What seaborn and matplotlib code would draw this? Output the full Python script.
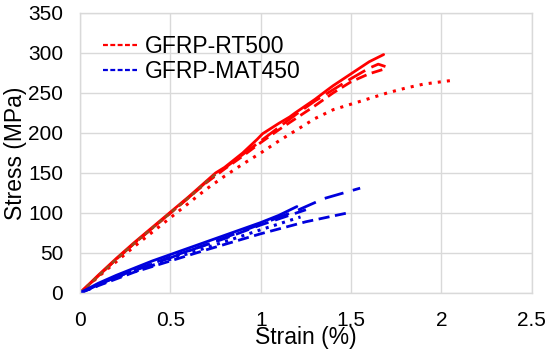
import pandas as pd
import matplotlib
matplotlib.use("Agg")
import matplotlib.pyplot as plt
import seaborn as sns
from matplotlib.lines import Line2D

# --- data (strain %, stress MPa) ---
rt_solid_x = [0, 0.1, 0.2, 0.3, 0.4, 0.5, 0.6, 0.7, 0.75, 0.8, 0.9, 0.98, 1.01, 1.1, 1.16, 1.19, 1.3, 1.37, 1.4, 1.5, 1.6, 1.68]
rt_solid_y = [0, 22, 43, 63, 82, 101, 120, 140, 150, 157, 175, 192, 199, 212, 220, 225, 242, 254, 259, 274, 289, 298]

rt_dash1_x = [0, 0.1, 0.2, 0.3, 0.4, 0.5, 0.6, 0.7, 0.8, 0.9, 1.0, 1.1, 1.2, 1.3, 1.4, 1.5, 1.6, 1.7]
rt_dash1_y = [0, 21, 42, 62, 81, 100, 119, 138, 155, 171, 188, 204, 219, 234, 250, 264, 274, 281]

rt_dash2_x = [0, 0.1, 0.2, 0.3, 0.4, 0.5, 0.6, 0.7, 0.8, 0.9, 1.0, 1.1, 1.2, 1.3, 1.4, 1.5, 1.6, 1.65, 1.69]
rt_dash2_y = [0, 21, 42, 62, 81, 100, 119, 139, 156, 173, 190, 207, 224, 240, 254, 268, 281, 286, 283]

rt_dot_x = [0, 0.1, 0.2, 0.3, 0.4, 0.5, 0.6, 0.7, 0.8, 0.9, 1.0, 1.1, 1.2, 1.3, 1.4, 1.5, 1.6, 1.7, 1.8, 1.9, 2.0, 2.07]
rt_dot_y = [0, 20, 39, 58, 76, 94, 112, 130, 146, 161, 175, 190, 204, 218, 229, 236, 243, 250, 256, 261, 264, 266]

# brownish overlap seen on the first part of the RT500 curves
rt_early_x = [0, 0.1, 0.2, 0.3, 0.4, 0.5, 0.6, 0.7, 0.76]
rt_early_y = [0, 21, 42, 62, 81, 100, 119, 139, 150]

mat_solid_x = [0, 0.1, 0.2, 0.3, 0.4, 0.5, 0.6, 0.7, 0.8, 0.9, 1.0, 1.1, 1.2]
mat_solid_y = [0, 12, 22, 31, 40, 48, 56, 64, 72, 80, 88, 97, 108]

mat_dashA_x = [0, 0.2, 0.5, 0.8, 1.0, 1.2, 1.35, 1.55]
mat_dashA_y = [0, 20, 44, 69, 86, 103, 118, 131]

mat_dashB_x = [0, 0.1, 0.3, 0.5, 0.7, 1.0, 1.25, 1.48]
mat_dashB_y = [0, 9, 26, 40, 54, 74, 89, 100]

mat_dashC_x = [0, 0.2, 0.5, 0.8, 1.0, 1.25]
mat_dashC_y = [0, 20, 45, 68, 85, 104]

mat_dot_x = [0, 0.2, 0.5, 0.8, 1.0, 1.22]
mat_dot_y = [0, 19, 42, 64, 79, 95]

x_ticks = [0, 0.5, 1, 1.5, 2, 2.5]
y_ticks = [0, 50, 100, 150, 200, 250, 300, 350]

RED = "#ff0000"
BLUE = "#0000dd"
BROWN = "#9a4a1c"

curves = [
    (rt_dot_x, rt_dot_y, RED, (0, (1, 2.0)), 2.2),
    (rt_dash1_x, rt_dash1_y, RED, (0, (4, 2)), 2.0),
    (rt_dash2_x, rt_dash2_y, RED, (0, (7, 2.5)), 2.0),
    (rt_solid_x, rt_solid_y, RED, "-", 2.0),
    (rt_early_x, rt_early_y, BROWN, (0, (2, 1.5)), 1.8),
    (mat_dot_x, mat_dot_y, BLUE, (0, (1, 1.8)), 2.2),
    (mat_dashB_x, mat_dashB_y, BLUE, (0, (4, 2)), 2.0),
    (mat_dashC_x, mat_dashC_y, BLUE, (0, (5, 2.5)), 2.0),
    (mat_dashA_x, mat_dashA_y, BLUE, (0, (7, 3.5)), 2.0),
    (mat_solid_x, mat_solid_y, BLUE, "-", 2.0),
]

sns.set_style("white")
plt.rcParams["font.family"] = ["Liberation Sans", "DejaVu Sans"]

fig, ax = plt.subplots(figsize=(5.5, 3.5), dpi=100)
fig.subplots_adjust(left=0.1455, right=0.967, top=0.963, bottom=0.163)

for xs, ys, col, ls, lw in curves:
    df = pd.DataFrame({"strain": xs, "stress": ys})
    sns.lineplot(data=df, x="strain", y="stress", ax=ax, color=col,
                 linestyle=ls, linewidth=lw, sort=False, estimator=None)

ax.set_xlim(0, 2.5)
ax.set_ylim(0, 350)
ax.set_xticks(x_ticks)
ax.set_xticklabels([f"{t:g}" for t in x_ticks])
ax.set_yticks(y_ticks)
ax.grid(True, color="#d9d9d9", linewidth=1)
for s in ax.spines.values():
    s.set_color("#d9d9d9")
    s.set_linewidth(1)
ax.tick_params(axis="both", labelsize=15, length=0, colors="black")
ax.tick_params(axis="x", pad=13)
ax.tick_params(axis="y", pad=12)
ax.set_xlabel("Strain (%)", fontsize=16.5, labelpad=-3, color="black")
ax.set_ylabel("Stress (MPa)", fontsize=16.5, labelpad=1, color="black")

handles = [Line2D([0], [0], color=RED, linestyle=(0, (2.2, 1.1)), linewidth=1.6),
           Line2D([0], [0], color=BLUE, linestyle=(0, (2.2, 1.1)), linewidth=1.6)]
ax.legend(handles, ["GFRP-RT500", "GFRP-MAT450"], loc="upper left",
          bbox_to_anchor=(0.02, 0.97), frameon=False, fontsize=16.5,
          handlelength=1.5, handletextpad=0.35, labelspacing=0.08, borderaxespad=0.2,
          labelcolor="black")

fig.savefig("out.png", dpi=100)
